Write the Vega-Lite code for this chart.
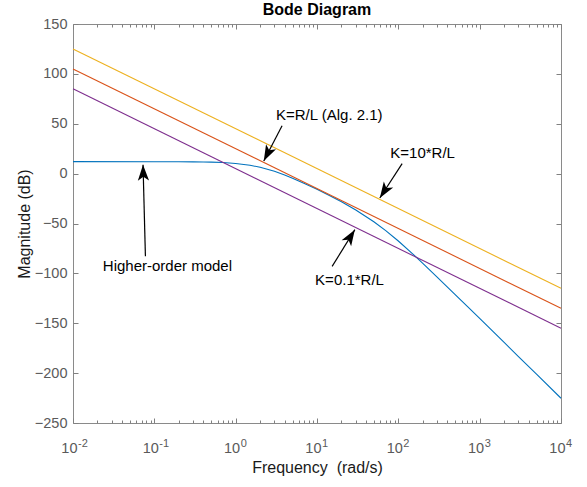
{
  "$schema": "https://vega.github.io/schema/vega-lite/v6.json",
  "width": 488,
  "height": 399,
  "autosize": {"type": "none"},
  "padding": {"left": 73, "top": 24, "right": 26, "bottom": 64},
  "title": {
    "text": "Bode Diagram",
    "anchor": "middle",
    "frame": "group",
    "font": "Liberation Sans",
    "fontSize": 16,
    "fontWeight": "bold",
    "color": "#000000",
    "baseline": "alphabetic",
    "offset": -14.5
  },
  "datasets": {
    "curves": [
      {"series": "higher", "w": 0.01, "db": 12.0},
      {"series": "higher", "w": 0.1, "db": 11.98},
      {"series": "higher", "w": 0.2, "db": 11.92},
      {"series": "higher", "w": 0.3, "db": 11.82},
      {"series": "higher", "w": 0.4, "db": 11.69},
      {"series": "higher", "w": 0.5, "db": 11.52},
      {"series": "higher", "w": 0.7, "db": 11.08},
      {"series": "higher", "w": 1, "db": 10.22},
      {"series": "higher", "w": 1.5, "db": 8.41},
      {"series": "higher", "w": 2, "db": 6.37},
      {"series": "higher", "w": 3, "db": 2.32},
      {"series": "higher", "w": 4, "db": -1.35},
      {"series": "higher", "w": 5, "db": -4.55},
      {"series": "higher", "w": 7, "db": -9.79},
      {"series": "higher", "w": 10, "db": -15.76},
      {"series": "higher", "w": 15, "db": -22.92},
      {"series": "higher", "w": 20, "db": -28.29},
      {"series": "higher", "w": 30, "db": -36.43},
      {"series": "higher", "w": 50, "db": -48.18},
      {"series": "higher", "w": 70, "db": -57.09},
      {"series": "higher", "w": 100, "db": -67.56},
      {"series": "higher", "w": 150, "db": -80.41},
      {"series": "higher", "w": 200, "db": -89.92},
      {"series": "higher", "w": 300, "db": -103.66},
      {"series": "higher", "w": 500, "db": -121.21},
      {"series": "higher", "w": 700, "db": -132.85},
      {"series": "higher", "w": 1000, "db": -145.21},
      {"series": "higher", "w": 2000, "db": -169.27},
      {"series": "higher", "w": 3000, "db": -183.36},
      {"series": "higher", "w": 5000, "db": -201.1},
      {"series": "higher", "w": 10000, "db": -225.18},
      {"series": "k10", "w": 0.01, "db": 125},
      {"series": "k10", "w": 10000, "db": -115},
      {"series": "k1", "w": 0.01, "db": 105},
      {"series": "k1", "w": 10000, "db": -135},
      {"series": "k01", "w": 0.01, "db": 85},
      {"series": "k01", "w": 10000, "db": -155}
    ],
    "arrows": [
      {"id": "a1", "label": "K=R/L (Alg. 2.1)", "x": 3.72, "y": 48.0, "x2": 2.216, "y2": 12.7, "tx": 14.16, "ty": 53.4},
      {"id": "a2", "label": "K=10*R/L", "x": 111.4, "y": 10.0, "x2": 59.2, "y2": -24.4, "tx": 199, "ty": 15.7},
      {"id": "a3", "label": "K=0.1*R/L", "x": 15.35, "y": -93.0, "x2": 29.2, "y2": -56.2, "tx": 25.1, "ty": -111.4},
      {"id": "a4", "label": "Higher-order model", "x": 0.0777, "y": -82.9, "x2": 0.0726, "y2": 8.95, "tx": 0.1449, "ty": -98.0}
    ],
    "helper": [{"w": 1}]
  },
  "layer": [
    {
      "data": {"name": "curves"},
      "mark": {"type": "line", "strokeWidth": 1.1},
      "encoding": {
        "x": {
          "field": "w",
          "type": "quantitative",
          "scale": {"type": "log", "domain": [0.01, 10000]},
          "axis": {
            "orient": "bottom",
            "values": [0.01, 0.1, 1, 10, 100, 1000, 10000],
            "labelExpr": "'10'",
            "labelAlign": "right",
            "labelOffset": 4,
            "labelBaseline": "alphabetic",
            "labelPadding": 34,
            "labelFlush": false,
            "labelOverlap": false,
            "title": "Frequency \u00a0(rad/s)",
            "titleX": 244,
            "titleY": 49,
            "titleBaseline": "alphabetic",
            "titleAlign": "center"
          }
        },
        "y": {
          "field": "db",
          "type": "quantitative",
          "scale": {"domain": [-250, 150], "nice": false, "zero": false},
          "axis": {
            "orient": "left",
            "values": [-250, -200, -150, -100, -50, 0, 50, 100, 150],
            "labelPadding": 11,
            "title": "Magnitude (dB)",
            "titleX": -49,
            "titleY": 199.5,
            "titleAngle": -90,
            "titleBaseline": "middle",
            "titleAlign": "center"
          }
        },
        "color": {
          "field": "series",
          "type": "nominal",
          "scale": {"domain": ["higher", "k01", "k1", "k10"], "range": ["#0072BD", "#7E2F8E", "#D95319", "#EDB120"]},
          "legend": null
        }
      }
    },
    {
      "data": {"name": "arrows"},
      "mark": {"type": "rule", "color": "#000000", "strokeWidth": 1.2},
      "encoding": {
        "x": {
          "field": "x",
          "type": "quantitative",
          "axis": {"orient": "top", "values": [0.01, 0.1, 1, 10, 100, 1000, 10000], "labels": false, "title": null}
        },
        "y": {
          "field": "y",
          "type": "quantitative",
          "axis": {"orient": "right", "values": [-250, -200, -150, -100, -50, 0, 50, 100, 150], "labels": false, "title": null}
        },
        "x2": {"field": "x2"},
        "y2": {"field": "y2"}
      }
    },
    {
      "data": {"name": "arrows"},
      "transform": [{"filter": "datum.id == 'a1'"}],
      "mark": {"type": "point", "shape": "M0,0L0.7,2L0,1.5L-0.7,2Z", "filled": true, "color": "#000000", "opacity": 1, "size": 256, "angle": 207},
      "encoding": {
        "x": {"field": "x2", "type": "quantitative", "axis": null},
        "y": {"field": "y2", "type": "quantitative", "axis": null}
      }
    },
    {
      "data": {"name": "arrows"},
      "transform": [{"filter": "datum.id == 'a2'"}],
      "mark": {"type": "point", "shape": "M0,0L0.7,2L0,1.5L-0.7,2Z", "filled": true, "color": "#000000", "opacity": 1, "size": 256, "angle": 213},
      "encoding": {
        "x": {"field": "x2", "type": "quantitative", "axis": null},
        "y": {"field": "y2", "type": "quantitative", "axis": null}
      }
    },
    {
      "data": {"name": "arrows"},
      "transform": [{"filter": "datum.id == 'a3'"}],
      "mark": {"type": "point", "shape": "M0,0L0.7,2L0,1.5L-0.7,2Z", "filled": true, "color": "#000000", "opacity": 1, "size": 256, "angle": 32},
      "encoding": {
        "x": {"field": "x2", "type": "quantitative", "axis": null},
        "y": {"field": "y2", "type": "quantitative", "axis": null}
      }
    },
    {
      "data": {"name": "arrows"},
      "transform": [{"filter": "datum.id == 'a4'"}],
      "mark": {"type": "point", "shape": "M0,0L0.7,2L0,1.5L-0.7,2Z", "filled": true, "color": "#000000", "opacity": 1, "size": 256, "angle": 358.5},
      "encoding": {
        "x": {"field": "x2", "type": "quantitative", "axis": null},
        "y": {"field": "y2", "type": "quantitative", "axis": null}
      }
    },
    {
      "data": {"name": "arrows"},
      "mark": {"type": "text", "font": "Liberation Sans", "fontSize": 15, "color": "#000000", "align": "center", "baseline": "alphabetic"},
      "encoding": {
        "x": {"field": "tx", "type": "quantitative", "axis": null},
        "y": {"field": "ty", "type": "quantitative", "axis": null},
        "text": {"field": "label"}
      }
    },
    {
      "data": {"name": "helper"},
      "mark": {"type": "point", "opacity": 0},
      "encoding": {
        "x": {
          "field": "w",
          "type": "quantitative",
          "axis": {
            "orient": "bottom",
            "values": [0.01, 0.1, 1, 10, 100, 1000, 10000],
            "labelExpr": "'' + round(log(datum.value) / LN10)",
            "ticks": false,
            "labelAlign": "left",
            "labelOffset": 4.5,
            "labelFontSize": 11,
            "labelBaseline": "alphabetic",
            "labelPadding": 23,
            "labelFlush": false,
            "labelOverlap": false,
            "title": null
          }
        }
      }
    },
    {
      "data": {"name": "helper"},
      "mark": {"type": "point", "opacity": 0},
      "encoding": {
        "x": {
          "field": "w",
          "type": "quantitative",
          "axis": {
            "orient": "bottom",
            "values": [0.02, 0.03, 0.04, 0.05, 0.06, 0.07, 0.08, 0.09, 0.2, 0.3, 0.4, 0.5, 0.6, 0.7, 0.8, 0.9, 2, 3, 4, 5, 6, 7, 8, 9, 20, 30, 40, 50, 60, 70, 80, 90, 200, 300, 400, 500, 600, 700, 800, 900, 2000, 3000, 4000, 5000, 6000, 7000, 8000, 9000],
            "labels": false,
            "tickSize": -3,
            "title": null
          }
        }
      }
    },
    {
      "data": {"name": "helper"},
      "mark": {"type": "point", "opacity": 0},
      "encoding": {
        "x": {
          "field": "w",
          "type": "quantitative",
          "axis": {
            "orient": "top",
            "values": [0.02, 0.03, 0.04, 0.05, 0.06, 0.07, 0.08, 0.09, 0.2, 0.3, 0.4, 0.5, 0.6, 0.7, 0.8, 0.9, 2, 3, 4, 5, 6, 7, 8, 9, 20, 30, 40, 50, 60, 70, 80, 90, 200, 300, 400, 500, 600, 700, 800, 900, 2000, 3000, 4000, 5000, 6000, 7000, 8000, 9000],
            "labels": false,
            "tickSize": -3,
            "title": null
          }
        }
      }
    }
  ],
  "resolve": {"axis": {"x": "independent", "y": "independent"}},
  "config": {
    "view": {"stroke": "#8a8a8a", "strokeWidth": 1},
    "font": "Liberation Sans",
    "axis": {
      "domain": false,
      "grid": false,
      "tickColor": "#808080",
      "tickSize": -5,
      "tickWidth": 1,
      "labelColor": "#5a5a5a",
      "labelFont": "Liberation Sans",
      "labelFontSize": 14.5,
      "titleFont": "Liberation Sans",
      "titleFontSize": 16,
      "titleFontWeight": "normal",
      "titleColor": "#1a1a1a"
    }
  }
}
